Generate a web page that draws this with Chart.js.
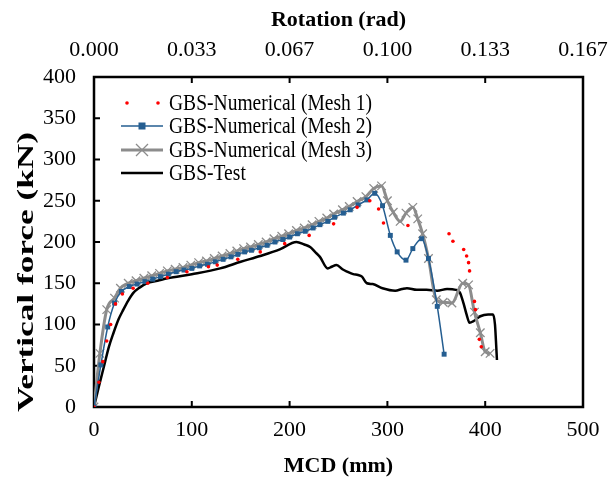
<!DOCTYPE html>
<html>
<head>
<meta charset="utf-8">
<script src="https://cdn.jsdelivr.net/npm/chart.js@4.4.0/dist/chart.umd.min.js"></script>
<style>
  html, body { margin: 0; padding: 0; background: #fff; }
</style>
</head>
<body>
<canvas id="c" width="608" height="483"></canvas>
<script>
// MCD (mm) vs vertical force (kN)
const mesh1X = [0, 5, 9, 13, 17, 22, 29, 40, 55, 75, 95, 117, 126, 147, 170, 195, 220, 245, 269, 282, 291, 296, 321, 363, 367, 378, 381, 383, 384, 389, 390, 394, 396];
const mesh1Y = [0, 30, 55, 80, 100, 125, 137, 144, 150, 157, 164, 170, 172, 179, 188, 198, 208, 222, 242, 250, 240, 223, 220, 210, 201, 191, 183, 175, 165, 128, 118, 82, 73];

const mesh2X = [0, 7, 14, 21, 28, 36, 44, 52, 60, 68, 76, 84, 92, 100, 108, 116, 124, 132, 140, 147, 154, 161, 169, 177, 185, 193, 200, 208, 216, 224, 231, 239, 246, 255, 262, 270, 279, 287, 295, 303, 310, 319, 326, 335, 342, 351, 358];
const mesh2Y = [0, 51, 97, 126, 140, 146, 149, 152, 155, 158, 161, 164, 166, 168, 171, 173, 176, 179, 182, 185, 188, 190, 193, 196, 200, 203, 206, 210, 213, 217, 221, 225, 230, 235, 239, 245, 251, 259, 244, 208, 188, 178, 192, 204, 180, 122, 64];

const mesh3X = [0, 6, 13, 21, 27, 35, 43, 51, 59, 67, 75, 83, 91, 99, 107, 115, 123, 131, 139, 146, 153, 160, 168, 176, 184, 192, 199, 207, 215, 223, 230, 238, 245, 254, 261, 269, 278, 286, 294, 300, 306, 313, 319, 326, 331, 336, 342, 350, 357, 366, 377, 383, 389, 395, 400, 405];
const mesh3Y = [0, 65, 118, 132, 144, 150, 153, 156, 159, 162, 165, 167, 169, 172, 175, 177, 180, 183, 186, 189, 192, 194, 197, 200, 204, 207, 210, 214, 217, 221, 225, 229, 234, 239, 243, 249, 255, 265, 268, 250, 236, 225, 235, 242, 228, 210, 180, 130, 127, 126, 150, 148, 115, 90, 67, 65];

const testX = [0, 5, 11, 15, 20, 25, 30, 35, 40, 47, 54, 65, 75, 100, 129, 150, 170, 190, 207, 215, 221, 226, 231, 239, 243, 248, 254, 259, 265, 270, 274, 279, 285, 295, 308, 315, 320, 330, 340, 351, 361, 370, 374, 378, 381, 384, 388, 395, 403, 408, 410, 411, 412];
const testY = [0, 25, 53, 72, 90, 106, 118, 129, 138, 145, 150, 153, 156, 161, 168, 176, 183, 191, 200, 197, 194, 188, 182, 168, 170, 172, 167, 164, 161, 160, 158, 150, 149, 144, 141, 143, 144, 142, 142, 141, 143, 142, 139, 125, 112, 102, 104, 110, 112, 112, 100, 80, 57];

const seriesNames = ['GBS-Numerical (Mesh 1)', 'GBS-Numerical (Mesh 2)', 'GBS-Numerical (Mesh 3)', 'GBS-Test'];
const rotationTicks = ['0.000', '0.033', '0.067', '0.100', '0.133', '0.167'];

const pts = (xs, ys) => xs.map((x, i) => ({ x: x, y: ys[i] }));

const serif = "'Liberation Serif', 'Times New Roman', serif";
const BLUE = '#255e91';
const GREY = '#8c8c8c';

// frame with inward ticks, custom legend and stretched y title
const overlay = {
  id: 'overlay',
  beforeDatasetsDraw(chart) {
    const { ctx, chartArea: a, scales } = chart;
    ctx.save();
    ctx.strokeStyle = '#000';
    ctx.lineWidth = 2.5;
    ctx.strokeRect(a.left, a.top, a.right - a.left, a.bottom - a.top);
    ctx.lineWidth = 2;
    ctx.beginPath();
    [100, 200, 300, 400].forEach(v => {
      const px = scales.x.getPixelForValue(v);
      ctx.moveTo(px, a.bottom); ctx.lineTo(px, a.bottom - 6);
      ctx.moveTo(px, a.top); ctx.lineTo(px, a.top + 6);
    });
    for (let v = 50; v < 400; v += 50) {
      const py = scales.y.getPixelForValue(v);
      ctx.moveTo(a.left, py); ctx.lineTo(a.left + 6, py);
    }
    ctx.stroke();
    ctx.restore();
  },
  afterDraw(chart) {
    const { ctx, chartArea: a } = chart;
    ctx.save();
    // y title
    ctx.translate(27, (a.top + a.bottom) / 2 + 30);
    ctx.rotate(-Math.PI / 2);
    ctx.font = 'bold 23px ' + serif;
    const w = ctx.measureText('Vertical force (kN)').width;
    ctx.scale(280 / w, 1);
    ctx.fillStyle = '#000';
    ctx.textAlign = 'center';
    ctx.textBaseline = 'middle';
    ctx.fillText('Vertical force (kN)', 0, 0);
    ctx.restore();

    // legend
    ctx.save();
    const x0 = 121, x1 = 163, tx = 169;
    const rows = [103, 126, 150, 173];
    ctx.font = '23px ' + serif;
    const sx = 203 / ctx.measureText(seriesNames[0]).width;
    rows.forEach((y, i) => {
      const ds = chart.data.datasets[i];
      const mid = (x0 + x1) / 2;
      if (i === 0) {
        ctx.fillStyle = 'red';
        [127, 158].forEach(cx => { ctx.beginPath(); ctx.arc(cx, y, 1.8, 0, Math.PI * 2); ctx.fill(); });
      } else {
        ctx.strokeStyle = ds.borderColor;
        ctx.lineWidth = ds.borderWidth;
        ctx.beginPath(); ctx.moveTo(x0, y); ctx.lineTo(x1, y); ctx.stroke();
        if (i === 1) {
          ctx.fillStyle = BLUE;
          ctx.fillRect(mid - 3.5, y - 3.5, 7, 7);
        } else if (i === 2) {
          ctx.lineWidth = 1.3;
          ctx.beginPath();
          ctx.moveTo(mid - 6, y - 6); ctx.lineTo(mid + 6, y + 6);
          ctx.moveTo(mid - 6, y + 6); ctx.lineTo(mid + 6, y - 6);
          ctx.stroke();
        }
      }
      ctx.save();
      ctx.translate(tx, y);
      ctx.scale(sx, 1);
      ctx.fillStyle = '#000';
      ctx.textBaseline = 'middle';
      ctx.fillText(seriesNames[i], 0, 1);
      ctx.restore();
    });
    ctx.restore();
  }
};

new Chart(document.getElementById('c'), {
  type: 'scatter',
  data: {
    datasets: [
      {
        label: seriesNames[0],
        data: pts(mesh1X, mesh1Y),
        showLine: false,
        pointStyle: 'circle',
        pointRadius: 1.8,
        backgroundColor: '#ff0000',
        borderColor: '#ff0000',
        borderWidth: 0
      },
      {
        label: seriesNames[1],
        data: pts(mesh2X, mesh2Y),
        showLine: true,
        borderColor: BLUE,
        borderWidth: 1.5,
        cubicInterpolationMode: 'monotone',
        pointStyle: 'rect',
        pointRadius: 3.5,
        pointBackgroundColor: BLUE,
        pointBorderColor: BLUE,
        pointBorderWidth: 0
      },
      {
        label: seriesNames[2],
        data: pts(mesh3X, mesh3Y),
        showLine: true,
        borderColor: GREY,
        borderWidth: 3,
        cubicInterpolationMode: 'monotone',
        pointStyle: 'crossRot',
        pointRadius: 6,
        pointBorderColor: GREY,
        pointBorderWidth: 1.3
      },
      {
        label: seriesNames[3],
        data: pts(testX, testY),
        showLine: true,
        borderColor: '#000',
        borderWidth: 2.5,
        cubicInterpolationMode: 'monotone',
        pointRadius: 0
      }
    ]
  },
  options: {
    responsive: false,
    animation: false,
    events: [],
    layout: { padding: { left: 0, right: 25, top: 0, bottom: 0 } },
    plugins: { legend: { display: false }, tooltip: { enabled: false } },
    scales: {
      x: {
        type: 'linear',
        position: 'bottom',
        min: 0, max: 500,
        grid: { display: false, drawTicks: false },
        border: { display: false },
        ticks: { stepSize: 100, padding: 10, color: '#000', font: { family: serif, size: 22 } },
        title: { display: true, text: 'MCD (mm)', color: '#000', font: { family: serif, size: 22, weight: 'bold' }, padding: { top: 0, bottom: 3 } },
        afterFit(s) { s.height = 76; s.paddingLeft = 0; s.paddingRight = 0; }
      },
      x2: {
        type: 'linear',
        position: 'top',
        min: 0, max: 500,
        grid: { display: false, drawTicks: false },
        border: { display: false },
        ticks: {
          stepSize: 100, padding: 14, color: '#000', font: { family: serif, size: 22 },
          callback: (v, i) => rotationTicks[i]
        },
        title: { display: true, text: 'Rotation (rad)', color: '#000', font: { family: serif, size: 22, weight: 'bold' }, padding: { top: 7, bottom: 0 } },
        afterFit(s) { s.height = 77; s.paddingLeft = 0; s.paddingRight = 0; }
      },
      y: {
        type: 'linear',
        position: 'left',
        min: 0, max: 400,
        grid: { display: false, drawTicks: false },
        border: { display: false },
        ticks: { stepSize: 50, padding: 18, color: '#000', font: { family: serif, size: 22 } },
        afterFit(s) { s.width = 94; s.paddingTop = 0; s.paddingBottom = 0; }
      }
    }
  },
  plugins: [overlay]
});
</script>
</body>
</html>
